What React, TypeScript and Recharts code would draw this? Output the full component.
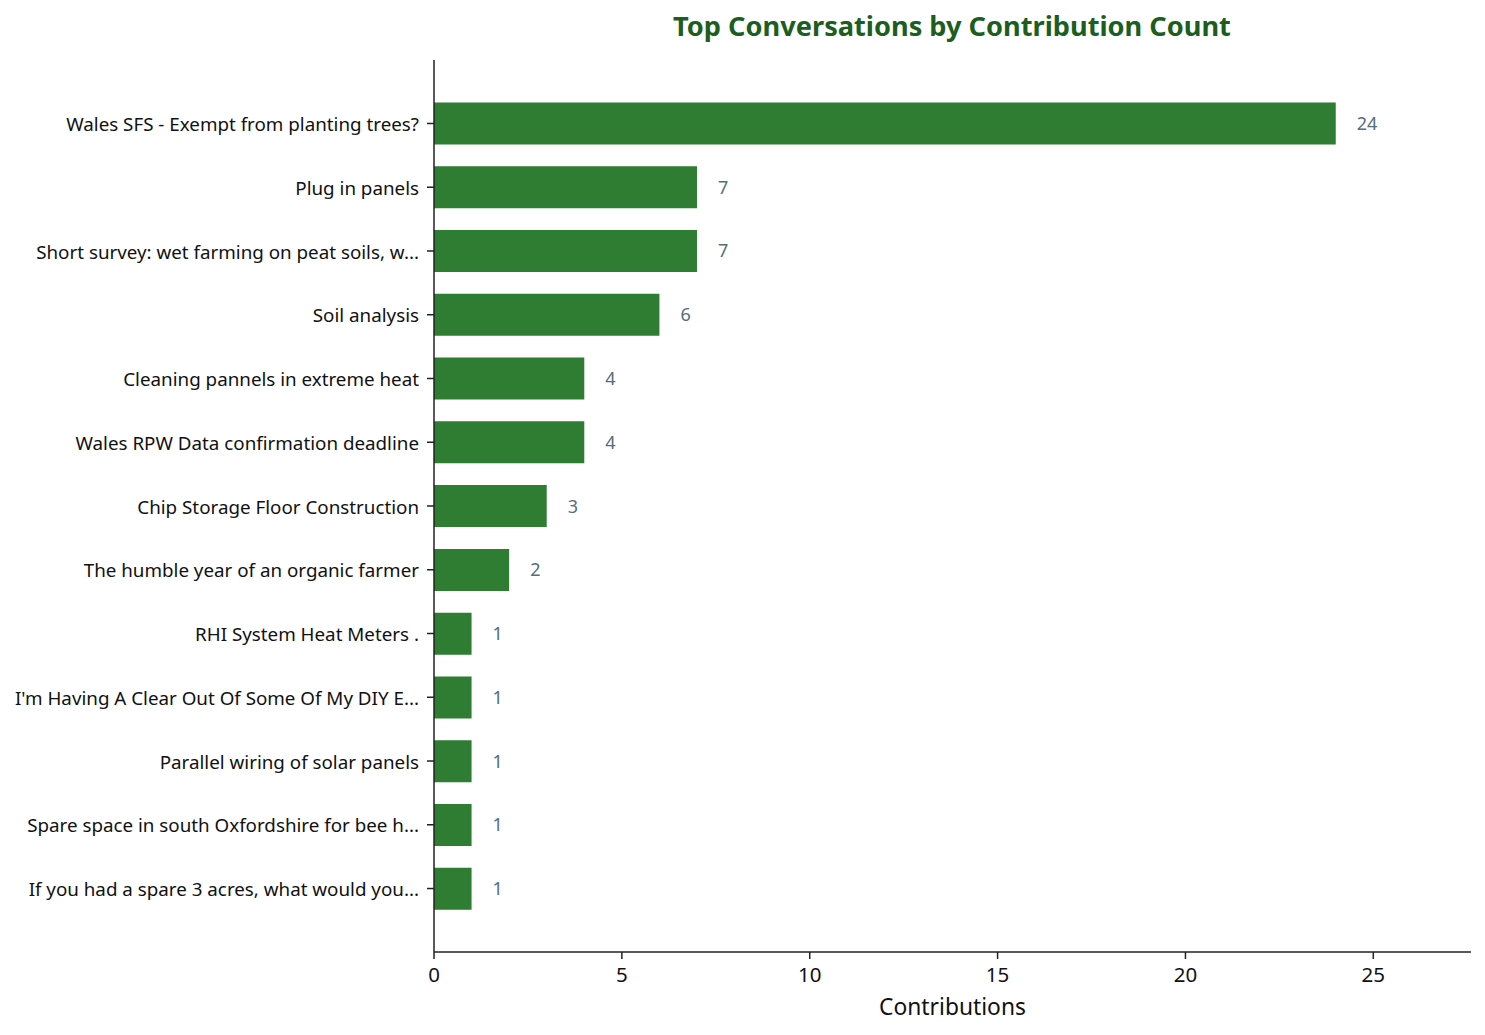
import { BarChart, Bar, XAxis, YAxis, LabelList } from "recharts";

// 대화별 기여 수 (위에서 아래 순서)
const topics = [
  "Wales SFS - Exempt from planting trees?",
  "Plug in panels",
  "Short survey: wet farming on peat soils, w...",
  "Soil analysis",
  "Cleaning pannels in extreme heat",
  "Wales RPW Data confirmation deadline",
  "Chip Storage Floor Construction",
  "The humble year of an organic farmer",
  "RHI System Heat Meters .",
  "I'm Having A Clear Out Of Some Of My DIY E...",
  "Parallel wiring of solar panels",
  "Spare space in south Oxfordshire for bee h...",
  "If you had a spare 3 acres, what would you...",
];
const contributions = [24, 7, 7, 6, 4, 4, 3, 2, 1, 1, 1, 1, 1];
const xTicks = [0, 5, 10, 15, 20, 25];

const data = topics.map((name, i) => ({ name, value: contributions[i] }));

const FONT = "'Noto Sans', 'DejaVu Sans', sans-serif";
const AXIS = "#222222";

export default function App() {
  return (
    <div
      style={{
        position: "absolute",
        left: 0,
        top: 0,
        width: 1485,
        height: 1035,
        background: "#fff",
        fontFamily: FONT,
      }}
    >
      <svg
        width={1485}
        height={60}
        style={{ position: "absolute", left: 0, top: 0 }}
      >
        <text
          x={952}
          y={36}
          textAnchor="middle"
          fontFamily={FONT}
          fontWeight="bold"
          fontSize={27.2}
          fill="#1b5e20"
        >
          Top Conversations by Contribution Count
        </text>
      </svg>
      <BarChart
        width={1485}
        height={1035}
        data={data}
        layout="vertical"
        margin={{ top: 60, right: 14, bottom: 0, left: 0 }}
      >
        <XAxis
          type="number"
          domain={[0, 27.6]}
          ticks={xTicks}
          height={83}
          tickSize={7}
          tickMargin={8}
          axisLine={{ stroke: AXIS, strokeWidth: 1.5 }}
          tickLine={{ stroke: AXIS, strokeWidth: 1.5 }}
          tick={{ fill: "#111", fontSize: 20.5, fontFamily: FONT }}
          label={{
            value: "Contributions",
            position: "insideBottom",
            offset: 20,
            fill: "#111",
            fontSize: 22.8,
            fontFamily: FONT,
          }}
        />
        <YAxis
          type="category"
          dataKey="name"
          width={434}
          padding={{ top: 31.6, bottom: 31.6 }}
          tickSize={7}
          tickMargin={8}
          interval={0}
          axisLine={{ stroke: AXIS, strokeWidth: 1.5 }}
          tickLine={{ stroke: AXIS, strokeWidth: 1.5 }}
          tick={{ fill: "#111", fontSize: 18.8, fontFamily: FONT, dy: 1 }}
        />
        <Bar
          dataKey="value"
          fill="#2e7d32"
          barSize={42}
          isAnimationActive={false}
        >
          <LabelList
            dataKey="value"
            position="right"
            offset={21}
            fill="#546e7a"
            fontSize={18}
            fontFamily={FONT}
          />
        </Bar>
      </BarChart>
    </div>
  );
}
